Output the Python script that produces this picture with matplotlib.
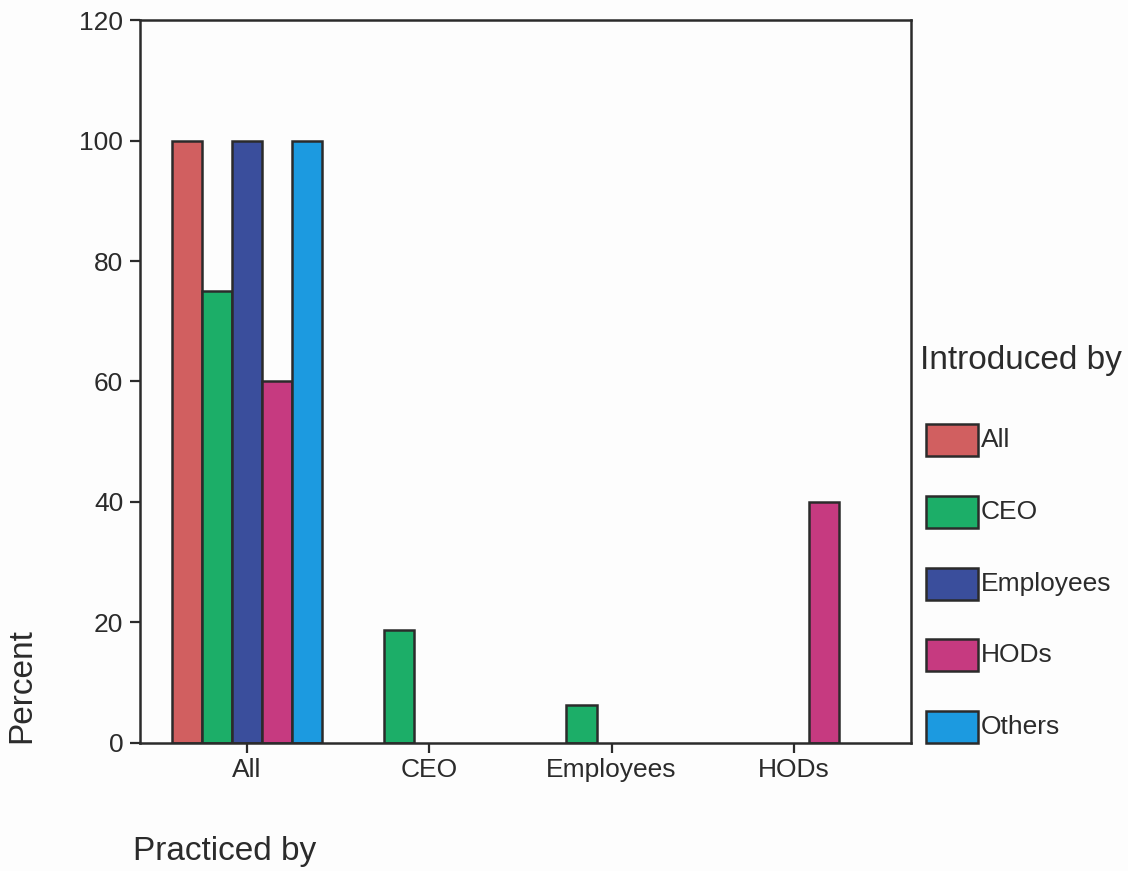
import numpy as np
import matplotlib
matplotlib.use('Agg')
import matplotlib.pyplot as plt
from matplotlib.patches import Rectangle

plt.rcParams['font.family'] = ['Liberation Sans', 'DejaVu Sans']

practiced = ['All', 'CEO', 'Employees', 'HODs']
introduced = ['All', 'CEO', 'Employees', 'HODs', 'Others']
# percent of each "practiced by" group, one list per "introduced by" value
pct = {
    'All':       [100, 0, 0, 0],
    'CEO':       [75, 18.75, 6.25, 0],
    'Employees': [100, 0, 0, 0],
    'HODs':      [60, 0, 0, 40],
    'Others':    [100, 0, 0, 0],
}
colors = ['#d15f60', '#1cae68', '#3a4e9c', '#c63a80', '#1c9ae0']
edge = '#2b2b2b'

fig = plt.figure(figsize=(11.28, 8.71), dpi=100)
fig.patch.set_facecolor('#fdfdfd')
ax = fig.add_axes([0.1241, 0.1470, 0.8076 - 0.1241, 0.9770 - 0.1470])
ax.set_facecolor('#fdfdfd')

x = np.arange(len(practiced))
w = 0.165
for i, name in enumerate(introduced):
    vals = np.array(pct[name])
    xs = x + (i - 2) * w
    keep = vals > 0
    ax.bar(xs[keep], vals[keep], width=w, color=colors[i],
           edgecolor=edge, linewidth=1.8)

ax.set_xlim(-0.587, 3.642)
ax.set_ylim(0, 120)
ax.set_yticks(np.arange(0, 121, 20))
ax.set_xticks(x)
ax.set_xticklabels(practiced)
ax.tick_params(axis='both', direction='out', length=7, width=1.6,
               color=edge, labelsize=19, labelcolor='#2b2b2b', pad=5)
ax.tick_params(axis='x', pad=4)
for s in ax.spines.values():
    s.set_linewidth(1.8)
    s.set_color(edge)

fig.text(22 / 1128, 1 - 743 / 871, 'Percent', rotation=90, fontsize=24,
         ha='center', va='bottom', color='#2b2b2b')
fig.text(133 / 1128, 1 - 851 / 871, 'Practiced by', fontsize=24,
         ha='left', va='center', color='#2b2b2b')

# legend drawn by hand on the right
W, H = 1128.0, 871.0
fig.text(920 / W, 1 - 360 / H, 'Introduced by', fontsize=24,
         ha='left', va='center', color='#2b2b2b')
for i, name in enumerate(introduced):
    yc = 440 + i * 71.8
    fig.patches.append(Rectangle((926 / W, 1 - (yc + 16) / H), 52 / W, 32 / H,
                                 transform=fig.transFigure, facecolor=colors[i],
                                 edgecolor=edge, linewidth=1.8))
    fig.text(981 / W, 1 - yc / H, name, fontsize=19, ha='left',
             va='center', color='#2b2b2b')

fig.savefig('out.png', dpi=100, facecolor=fig.get_facecolor())
